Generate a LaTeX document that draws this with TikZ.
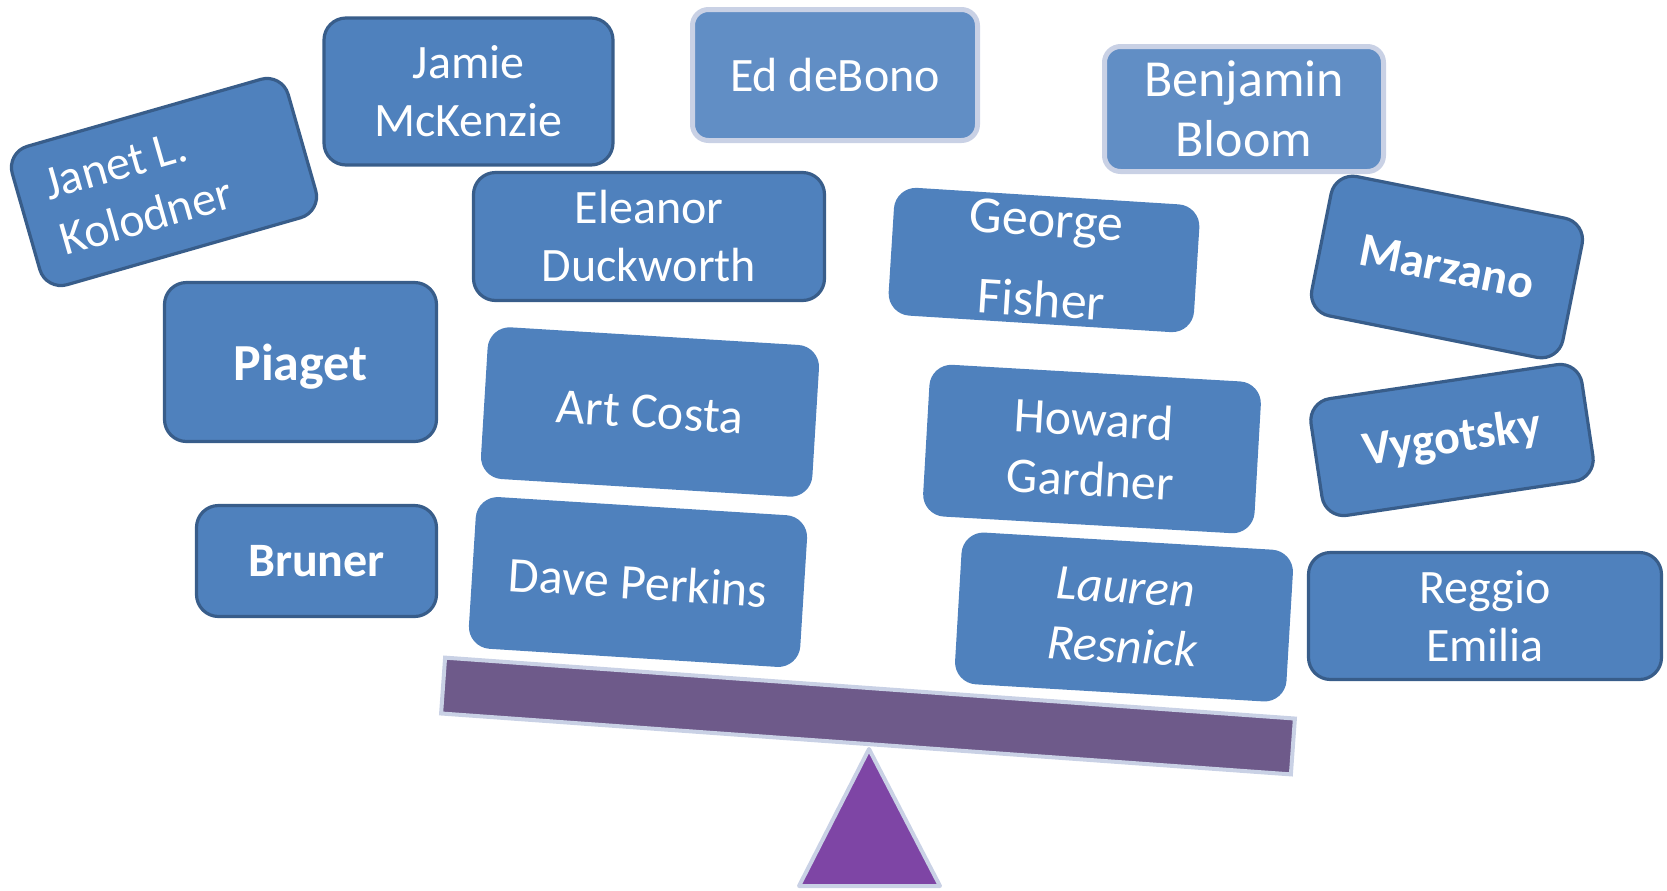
\documentclass[tikz,border=0pt]{standalone}
\usepackage{fontspec}
\setmainfont{Carlito}
\definecolor{cardfill}{HTML}{4F81BD}
\definecolor{cardedge}{HTML}{385D8A}
\definecolor{softfill}{HTML}{618EC5}
\definecolor{haloline}{HTML}{C9D1E5}
\definecolor{beamfill}{HTML}{6E5A8A}
\definecolor{pivotfill}{HTML}{7E45A5}
\tikzset{
  card/.style={rounded corners=11pt, fill=cardfill, inner sep=0pt, align=center,
    text=white, font=\fontsize{24}{29}\selectfont},
  framed/.style={card, draw=cardedge, line width=1.6pt},
  soft/.style={card, fill=softfill, draw=haloline, line width=2.5pt, rounded corners=8pt},
  bare/.style={card},
  cardtext/.style={inner sep=0pt, text=white, font=\fontsize{24}{29}\selectfont},
}
\begin{document}
\begin{tikzpicture}[x=0.5pt,y=-0.5pt]
\path[use as bounding box] (0,0) rectangle (1667,890);

% seesaw beam and pivot
\node (beam) [draw=haloline, line width=2pt, fill=beamfill, inner sep=0pt,
  minimum width=426pt, minimum height=28pt, rotate=-4.1] at (868,716) {};
\draw[draw=haloline, line width=2pt, fill=pivotfill, line join=round]
  (869,749) -- (940,886) -- (799,886) -- cycle;

% names, left column
\node (janet) [framed, minimum width=143.5pt, minimum height=72pt, rotate=16] at (164,182) {};
\node (janetname) [cardtext, rotate=16, align=left] at (138,189) {Janet L.\\Kolodner};
\node (piaget) [framed, minimum width=136pt, minimum height=79.5pt, text depth=0pt,
  font=\fontsize{26}{30}\selectfont\bfseries] at (300.5,362) {Piaget};
\node (bruner) [framed, minimum width=120pt, minimum height=55.5pt,
  font=\fontsize{24}{29}\selectfont\bfseries] at (316.5,561) {Bruner};

% names, second column
\node (jamie) [framed, minimum width=144.5pt, minimum height=73.5pt] at (468.5,91.5) {Jamie\\McKenzie};
\node (eleanor) [framed, minimum width=175.5pt, minimum height=64pt] at (649,236.5) {Eleanor\\Duckworth};
\node (costa) [bare, minimum width=166pt, minimum height=76pt, rotate=-3.5,
  font=\fontsize{25}{30}\selectfont] at (650,412) {Art Costa};
\node (perkins) [bare, minimum width=166pt, minimum height=76pt, rotate=-3.6,
  font=\fontsize{25}{30}\selectfont] at (638,582) {Dave Perkins};

% names, third column
\node (debono) [soft, minimum width=142.5pt, minimum height=65.5pt] at (835,75) {Ed deBono};
\node (fisher) [bare, minimum width=153pt, minimum height=64pt, rotate=-3.6,
  font=\fontsize{26}{40}\selectfont] at (1044,260) {George\\Fisher};
\node (gardner) [bare, minimum width=166pt, minimum height=76pt, rotate=-3.3,
  font=\fontsize{25}{30}\selectfont] at (1092,449) {Howard\\Gardner};
\node (resnick) [bare, minimum width=166pt, minimum height=76pt, rotate=-3.4,
  font=\fontsize{25}{30}\selectfont\itshape] at (1124,617) {Lauren\\Resnick};

% names, right column
\node (bloom) [soft, minimum width=139.5pt, minimum height=62.5pt,
  font=\fontsize{26}{30}\selectfont] at (1244,109) {Benjamin\\Bloom};
\node (marzano) [framed, minimum width=128pt, minimum height=71pt, rotate=-11.3,
  font=\fontsize{24}{29}\selectfont\bfseries] at (1447,267) {Marzano};
\node (vygotsky) [framed, minimum width=137pt, minimum height=59pt, rotate=8.5,
  font=\fontsize{24}{29}\selectfont\bfseries] at (1452,440) {Vygotsky};
\node (reggio) [framed, minimum width=176.5pt, minimum height=63.5pt] at (1485,616) {Reggio\\Emilia};
\end{tikzpicture}
\end{document}
